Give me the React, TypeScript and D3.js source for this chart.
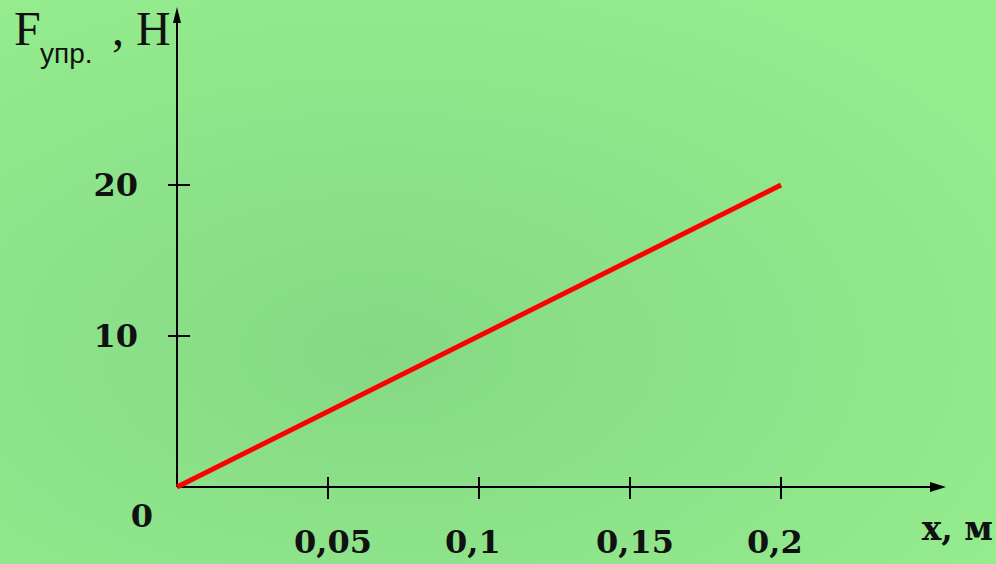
import React from "react";
import * as d3 from "d3";

const xTicks = [0.05, 0.1, 0.15, 0.2];
const xTickLabels = ["0,05", "0,1", "0,15", "0,2"];
const yTicks = [10, 20];
const yTickLabels = ["10", "20"];
const lineX = [0, 0.2];
const lineF = [0, 20];

const W = 996;
const H = 564;

export default function App() {
  const x = d3.scaleLinear().domain([0, 0.2]).range([177, 781]);
  const y = d3.scaleLinear().domain([0, 20]).range([487, 185]);
  const pts = lineX.map((v, i) => [v, lineF[i]] as [number, number]);
  const line = d3
    .line<[number, number]>()
    .x((d) => x(d[0]))
    .y((d) => y(d[1]));
  const x0 = x(0);
  const y0 = y(0);
  const numFont = "'DejaVu Serif', serif";
  return (
    <>
      <style>{"body{margin:0}"}</style>
      <svg width={W} height={H} style={{ display: "block" }}>
        <defs>
          <radialGradient id="bg" cx="38%" cy="62%" r="75%">
            <stop offset="0%" stopColor="#85d985" />
            <stop offset="100%" stopColor="#95ed8e" />
          </radialGradient>
        </defs>
        <rect width={W} height={H} fill="url(#bg)" />
        {/* axes */}
        <line x1={x0} y1={y0} x2={936} y2={y0} stroke="#000" strokeWidth={2} />
        <path d={`M946,${y0} L930,${y0 - 5} L930,${y0 + 5} Z`} fill="#000" />
        <line x1={x0} y1={y0} x2={x0} y2={18} stroke="#000" strokeWidth={2} />
        <path d={`M${x0},7 L${x0 - 4},23 L${x0 + 4},23 Z`} fill="#000" />
        {/* x ticks */}
        {xTicks.map((t, i) => (
          <g key={"xt" + i}>
            <line x1={x(t)} x2={x(t)} y1={y0 - 10} y2={y0 + 12} stroke="#000" strokeWidth={2} />
            <text
              x={x(t) - 34}
              y={553}
              textAnchor="start"
              fontFamily={numFont}
              fontWeight="bold"
              fontSize={32}
              fill="#111"
            >
              {xTickLabels[i]}
            </text>
          </g>
        ))}
        {/* y ticks */}
        {yTicks.map((t, i) => (
          <g key={"yt" + i}>
            <line x1={x0 - 9} x2={x0 + 13} y1={y(t)} y2={y(t)} stroke="#000" strokeWidth={2} />
            <text
              x={138}
              y={y(t) + 11}
              textAnchor="end"
              fontFamily={numFont}
              fontWeight="bold"
              fontSize={32}
              fill="#111"
            >
              {yTickLabels[i]}
            </text>
          </g>
        ))}
        <text x={142} y={527} textAnchor="middle" fontFamily={numFont} fontWeight="bold" fontSize={32} fill="#111">
          0
        </text>
        {/* line */}
        <path d={line(pts) || ""} fill="none" stroke="#ff0000" strokeWidth={5} />
        {/* axis titles */}
        <text x={993} y={540} textAnchor="end" fontFamily={numFont} fontWeight="bold" fontSize={33} fill="#111">
          x, м
        </text>
        <text x={14} y={45} fontFamily="'Liberation Serif', serif" fontSize={48} fill="#111">
          F
        </text>
        <text x={40} y={63} fontFamily="'Liberation Sans', sans-serif" fontSize={28} fill="#111">
          упр.
        </text>
        <text x={112} y={45} fontFamily="'Liberation Serif', serif" fontSize={48} fill="#111">
          , H
        </text>
      </svg>
    </>
  );
}
